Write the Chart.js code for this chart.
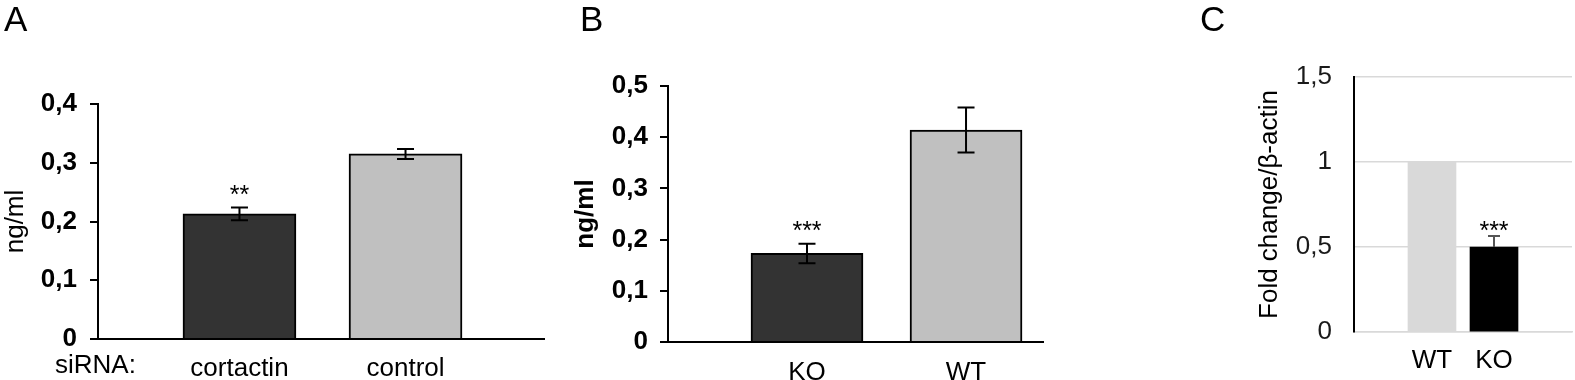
<!DOCTYPE html>
<html>
<head>
<meta charset="utf-8">
<script src="https://cdn.jsdelivr.net/npm/chart.js@4.4.0/dist/chart.umd.min.js"></script>
<style>
  body { margin: 0; background: #fff; }
  #wrap { position: relative; width: 1575px; height: 380px; }
  canvas { position: absolute; top: 0; }
</style>
</head>
<body>
<div id="wrap">
  <canvas id="panelA" width="548" height="380" style="left:0"></canvas>
  <canvas id="panelB" width="500" height="380" style="left:548px"></canvas>
  <canvas id="panelC" width="395" height="380" style="left:1180px"></canvas>
</div>
<script>
// Panel A - siRNA
const catsA = ['cortactin', 'control'];
const valsA = [0.213, 0.315];
const errA = [0.011, 0.0085];
const sigA = ['**', ''];
const yTicksA = [0, 0.1, 0.2, 0.3, 0.4];

// Panel B - KO vs WT
const catsB = ['KO', 'WT'];
const valsB = [0.173, 0.414];
const errB = [0.019, 0.044];
const sigB = ['***', ''];
const yTicksB = [0, 0.1, 0.2, 0.3, 0.4, 0.5];

// Panel C - fold change
const catsC = ['WT', 'KO'];
const valsC = [1, 0.5];
const errC = [0, 0.065];
const sigC = ['', '***'];
const yTicksC = [0, 0.5, 1, 1.5];

Chart.defaults.font.family = '"Liberation Sans", Arial, sans-serif';
Chart.defaults.color = '#000';

function fmt(v) {
    return String(Math.round(v * 10) / 10).replace('.', ',');
}

// error bars, stars, panel letter
function extras(p) {
    return {
        id: 'extras',
        afterDatasetsDraw(chart) {
            const { ctx, scales: { x, y } } = chart;
            ctx.save();
            ctx.strokeStyle = p.errColor;
            ctx.lineWidth = 2;
            p.values.forEach((v, i) => {
                const e = p.errors[i];
                if (!e) return;
                const px = x.getPixelForValue(i + 1);
                const top = y.getPixelForValue(v + e);
                const bot = y.getPixelForValue(p.upOnly ? v : v - e);
                ctx.beginPath();
                ctx.moveTo(px, top);
                ctx.lineTo(px, bot);
                ctx.moveTo(px - p.cap, top);
                ctx.lineTo(px + p.cap, top);
                if (!p.upOnly) {
                    ctx.moveTo(px - p.cap, bot);
                    ctx.lineTo(px + p.cap, bot);
                }
                ctx.stroke();
            });

            ctx.fillStyle = '#000';
            ctx.textAlign = 'center';
            ctx.textBaseline = 'alphabetic';
            ctx.font = '25px "Liberation Sans", Arial';
            p.stars.forEach((s, i) => {
                if (!s) return;
                const px = x.getPixelForValue(i + 1);
                ctx.fillText(s, px, y.getPixelForValue(p.values[i] + p.errors[i]) + p.starDy);
            });

            ctx.textAlign = 'left';
            ctx.font = '35px "Liberation Sans", Arial';
            ctx.fillText(p.letter, p.letterX, 31);

            if (p.prefix) {
                ctx.font = '26px "Liberation Sans", Arial';
                ctx.fillText(p.prefix, p.prefixX, 373);
            }
            ctx.restore();
        }
    };
}

function makePanel(id, p) {
    return new Chart(document.getElementById(id), {
        type: 'bar',
        data: {
            datasets: [{
                data: p.values.map((v, i) => ({ x: i + 1, y: v })),
                backgroundColor: p.colors,
                borderColor: '#000',
                borderWidth: p.border,
                barThickness: p.barW
            }]
        },
        options: {
            responsive: false,
            animation: false,
            layout: { padding: p.pad },
            plugins: { legend: { display: false }, tooltip: { enabled: false } },
            scales: {
                x: {
                    type: 'linear',
                    offset: false,
                    min: p.xMin,
                    max: p.xMax,
                    afterBuildTicks: s => { s.ticks = p.cats.map((c, i) => ({ value: i + 1 })); },
                    afterFit: s => { s.height = p.xH; },
                    ticks: {
                        callback: (v, i) => p.cats[i],
                        font: { size: 26 },
                        padding: p.xPad,
                        autoSkip: false,
                        maxRotation: 0
                    },
                    grid: { display: false, offset: false },
                    border: { color: p.xColor, width: p.xWidth },
                    z: 1
                },
                y: {
                    min: 0,
                    max: p.yTicks[p.yTicks.length - 1],
                    afterBuildTicks: s => { s.ticks = p.yTicks.map(v => ({ value: v })); },
                    afterFit: s => { s.width = p.yW; },
                    ticks: {
                        callback: v => fmt(v),
                        font: { size: 26, weight: p.bold ? 'bold' : 'normal' },
                        color: p.tickColor,
                        padding: p.yPad
                    },
                    grid: p.grid,
                    border: { color: '#000', width: 2 },
                    title: {
                        display: true,
                        text: p.title,
                        font: { size: 26, weight: p.titleBold ? 'bold' : 'normal' },
                        padding: { top: 0, bottom: 0 }
                    }
                }
            }
        },
        plugins: [extras(p)]
    });
}

makePanel('panelA', {
    cats: catsA, values: valsA, errors: errA, stars: sigA, yTicks: yTicksA,
    colors: ['#333333', '#c0c0c0'], border: 2, barW: 113,
    xMin: 0.148, xMax: 2.834, xH: 41, xPad: 6, xColor: '#000', xWidth: 2,
    pad: { left: 0, top: 104, right: 4, bottom: 0 }, yW: 98, yPad: 13,
    bold: true, titleBold: false, title: 'ng/ml', tickColor: '#000',
    grid: { drawOnChartArea: false, drawTicks: true, tickLength: 8, color: '#000', lineWidth: 2 },
    errColor: '#000', cap: 8.5, upOnly: false, starDy: -4,
    letter: 'A', letterX: 4, prefix: 'siRNA:', prefixX: 55
});

makePanel('panelB', {
    cats: catsB, values: valsB, errors: errB, stars: sigB, yTicks: yTicksB,
    colors: ['#333333', '#c0c0c0'], border: 2, barW: 112,
    xMin: 0.126, xMax: 2.484, xH: 38, xPad: 7, xColor: '#000', xWidth: 2,
    pad: { left: 22, top: 86, right: 5, bottom: 0 }, yW: 98, yPad: 12,
    bold: true, titleBold: true, title: 'ng/ml', tickColor: '#000',
    grid: { drawOnChartArea: false, drawTicks: true, tickLength: 8, color: '#000', lineWidth: 2 },
    errColor: '#000', cap: 8.5, upOnly: false, starDy: -5,
    letter: 'B', letterX: 32
});

makePanel('panelC', {
    cats: catsC, values: valsC, errors: errC, stars: sigC, yTicks: yTicksC,
    colors: ['#d9d9d9', '#000000'], border: 0, barW: 48,
    xMin: -0.258, xMax: 3.258, xH: 48, xPad: 5, xColor: '#d9d9d9', xWidth: 1.5,
    pad: { left: 74, top: 77, right: 3, bottom: 0 }, yW: 100, yPad: 22,
    bold: false, titleBold: false, title: 'Fold change/β-actin', tickColor: '#1a1a1a',
    grid: { drawOnChartArea: true, drawTicks: false, color: '#d9d9d9', lineWidth: 1.5 },
    errColor: '#555555', cap: 6, upOnly: true, starDy: 3,
    letter: 'C', letterX: 20
});
</script>
</body>
</html>
